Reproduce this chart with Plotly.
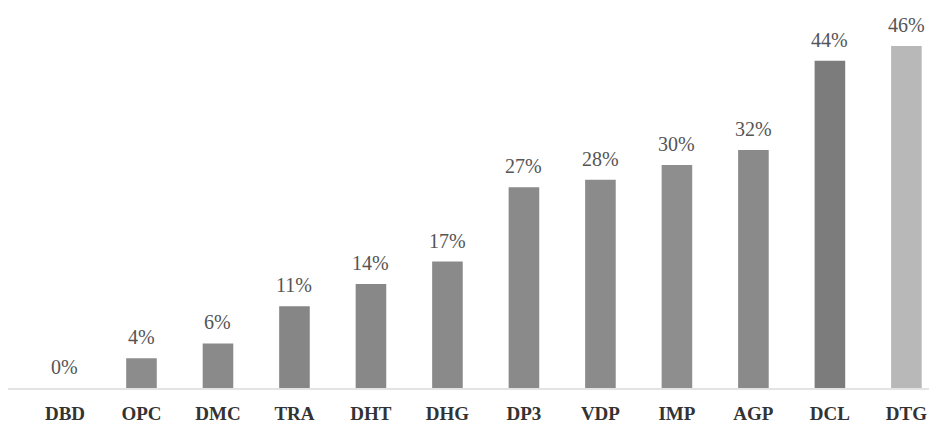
import plotly.graph_objects as go

categories = ["DBD", "OPC", "DMC", "TRA", "DHT", "DHG", "DP3", "VDP", "IMP", "AGP", "DCL", "DTG"]
values = [0, 4, 6, 11, 14, 17, 27, 28, 30, 32, 44, 46]
labels = ["0%", "4%", "6%", "11%", "14%", "17%", "27%", "28%", "30%", "32%", "44%", "46%"]
colors = ["#8a8a8a", "#8c8c8c", "#8a8a8a", "#868686", "#888888", "#8a8a8a",
          "#8a8a8a", "#8b8b8b", "#8e8e8e", "#8a8a8a", "#7c7c7c", "#b8b8b8"]

fig = go.Figure()
fig.add_trace(go.Bar(
    x=categories, y=values, width=0.40,
    marker=dict(color=colors, line=dict(width=0)),
    cliponaxis=False,
))
for c, v, t in zip(categories, values, labels):
    fig.add_annotation(x=c, y=v, text=t, showarrow=False, yanchor="bottom", yshift=8,
                       font=dict(family="Liberation Serif", size=20, color="#555555"))

fig.update_layout(
    width=929, height=419,
    margin=dict(l=0, r=0, t=0, b=39),
    plot_bgcolor="white", paper_bgcolor="white",
    showlegend=False,
    xaxis=dict(range=[-0.745, 11.4], showgrid=False, zeroline=False,
               showline=True, linecolor="#e3e3e3", linewidth=2,
               ticks="", ticklabelstandoff=7,
               tickfont=dict(family="Liberation Serif", size=19, color="#333333", weight="bold")),
    yaxis=dict(range=[0, 51.1], visible=False),
)
fig.write_html("out.html")
